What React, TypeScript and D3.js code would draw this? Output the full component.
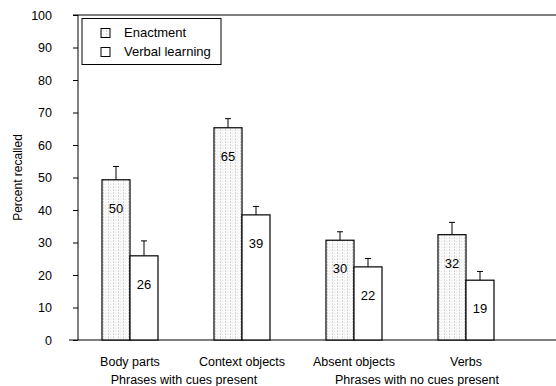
import React, { useEffect, useRef } from 'react';
import * as d3 from 'd3';

const categories = ['Body parts', 'Context objects', 'Absent objects', 'Verbs'];
const seriesNames = ['Enactment', 'Verbal learning'];
const enactment = [49.3, 65.3, 30.7, 32.4];
const verbal = [25.9, 38.5, 22.5, 18.4];
const enactmentErr = [53.4, 68.1, 33.3, 36.2];
const verbalErr = [30.5, 41.1, 25.1, 21.1];
const enactmentLabels = ['50', '65', '30', '32'];
const verbalLabels = ['26', '39', '22', '19'];
const groupLabels = ['Phrases with cues present', 'Phrases with no cues present'];
const yTicks = [0, 10, 20, 30, 40, 50, 60, 70, 80, 90, 100];

function App() {
    const svgRef = useRef(null);

    useEffect(() => {
        const svg = d3.select(svgRef.current);
        svg.selectAll('*').remove();

        const width = 556;
        const height = 386;
        const font = 'Liberation Sans, Arial, sans-serif';

        const x = d3.scaleBand().domain(categories).range([74, 522]).paddingInner(0.5).paddingOuter(0.25);
        const sub = d3.scaleBand().domain(seriesNames).range([0, x.bandwidth()]);
        const y = d3.scaleLinear().domain([0, 100]).range([340, 15]);

        // faint dotted pattern for enactment bars
        const defs = svg.append('defs');
        const pat = defs.append('pattern')
            .attr('id', 'stip')
            .attr('patternUnits', 'userSpaceOnUse')
            .attr('width', 5)
            .attr('height', 3);
        pat.append('rect').attr('width', 5).attr('height', 3).attr('fill', '#fafafa');
        pat.append('rect').attr('x', 1).attr('y', 0).attr('width', 1).attr('height', 2).attr('fill', '#d6d6d6');
        pat.append('rect').attr('x', 3).attr('y', 1).attr('width', 1).attr('height', 1).attr('fill', '#e6e6e6');

        svg.append('rect').attr('width', width).attr('height', height).attr('fill', 'white');

        // y axis
        const yAxis = svg.append('g')
            .attr('transform', 'translate(78,0)')
            .call(d3.axisLeft(y).tickValues(yTicks).tickSize(5).tickPadding(21));
        yAxis.select('.domain').attr('stroke', '#000').attr('d', `M0,${y(0)}V${y(100)}`);
        yAxis.selectAll('line').attr('stroke', '#000');
        yAxis.selectAll('text').style('font-family', font).style('font-size', '12.5px').attr('fill', '#000');

        // top frame line and baseline
        svg.append('line').attr('x1', 73).attr('x2', width).attr('y1', y(100)).attr('y2', y(100)).attr('stroke', '#000');
        svg.append('line').attr('x1', 69).attr('x2', width).attr('y1', y(0)).attr('y2', y(0)).attr('stroke', '#000');

        const data = categories.map((c, i) => ({
            c,
            vals: [
                { s: seriesNames[0], v: enactment[i], e: enactmentErr[i], l: enactmentLabels[i] },
                { s: seriesNames[1], v: verbal[i], e: verbalErr[i], l: verbalLabels[i] },
            ],
        }));

        const groups = svg.selectAll('.grp').data(data).enter().append('g')
            .attr('transform', d => `translate(${x(d.c)},0)`);

        const bars = groups.selectAll('.bar').data(d => d.vals).enter().append('g');

        // error bars
        bars.append('line')
            .attr('x1', d => sub(d.s) + sub.bandwidth() / 2)
            .attr('x2', d => sub(d.s) + sub.bandwidth() / 2)
            .attr('y1', d => y(d.v))
            .attr('y2', d => y(d.e))
            .attr('stroke', '#000');
        bars.append('line')
            .attr('x1', d => sub(d.s) + sub.bandwidth() / 2 - 3)
            .attr('x2', d => sub(d.s) + sub.bandwidth() / 2 + 3)
            .attr('y1', d => y(d.e))
            .attr('y2', d => y(d.e))
            .attr('stroke', '#000');

        bars.append('rect')
            .attr('x', d => sub(d.s))
            .attr('y', d => y(d.v))
            .attr('width', sub.bandwidth())
            .attr('height', d => y(0) - y(d.v))
            .attr('fill', d => d.s === 'Enactment' ? 'url(#stip)' : '#fff')
            .attr('stroke', '#000')
            .attr('stroke-width', 1.2);

        bars.append('text')
            .attr('x', d => sub(d.s) + sub.bandwidth() / 2)
            .attr('y', d => y(d.v) + 33)
            .attr('text-anchor', 'middle')
            .style('font-family', font)
            .style('font-size', '13px')
            .text(d => d.l);

        // category labels
        svg.selectAll('.cat').data(categories).enter().append('text')
            .attr('x', d => x(d) + x.bandwidth() / 2)
            .attr('y', 366)
            .attr('text-anchor', 'middle')
            .style('font-family', font)
            .style('font-size', '12.5px')
            .text(d => d);

        // group labels
        svg.selectAll('.gl').data(groupLabels).enter().append('text')
            .attr('x', (d, i) => (x(categories[i * 2]) + x(categories[i * 2 + 1]) + x.bandwidth()) / 2 + (i ? 7 : -2))
            .attr('y', 384)
            .attr('text-anchor', 'middle')
            .style('font-family', font)
            .style('font-size', '12.5px')
            .text(d => d);

        // y axis label
        svg.append('text')
            .attr('transform', `translate(22,${(y(0) + y(100)) / 2}) rotate(-90)`)
            .attr('text-anchor', 'middle')
            .style('font-family', font)
            .style('font-size', '12px')
            .text('Percent recalled');

        // legend
        const lg = svg.append('g');
        lg.append('rect').attr('x', 82).attr('y', 18.5).attr('width', 139).attr('height', 46)
            .attr('fill', '#fff').attr('stroke', '#000');
        seriesNames.forEach((s, i) => {
            lg.append('rect').attr('x', 101).attr('y', 28.5 + i * 19).attr('width', 9).attr('height', 9)
                .attr('fill', i === 0 ? 'url(#stip)' : '#fff').attr('stroke', '#000');
            lg.append('text').attr('x', 124).attr('y', 37 + i * 19)
                .style('font-family', font).style('font-size', '13px').text(s);
        });
    }, []);

    return (
        <svg ref={svgRef} width={556} height={386} style={{ position: 'absolute', left: 0, top: 0 }}></svg>
    );
}

export default App;
